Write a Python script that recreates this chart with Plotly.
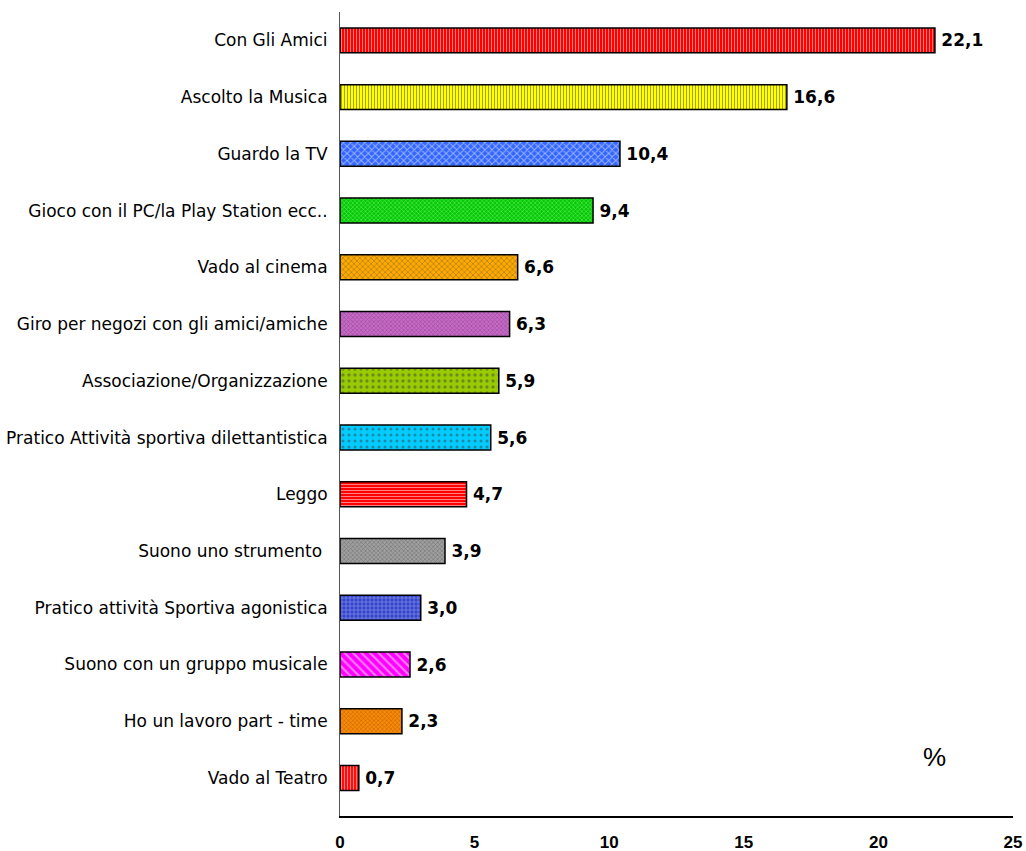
import plotly.graph_objects as go

categories = [
    "Con Gli Amici",
    "Ascolto la Musica",
    "Guardo la TV",
    "Gioco con il PC/la Play Station ecc..",
    "Vado al cinema",
    "Giro per negozi con gli amici/amiche",
    "Associazione/Organizzazione",
    "Pratico Attività sportiva dilettantistica",
    "Leggo",
    "Suono uno strumento ",
    "Pratico attività Sportiva agonistica",
    "Suono con un gruppo musicale",
    "Ho un lavoro part - time",
    "Vado al Teatro",
]
values = [22.1, 16.6, 10.4, 9.4, 6.6, 6.3, 5.9, 5.6, 4.7, 3.9, 3.0, 2.6, 2.3, 0.7]
x_ticks = [0, 5, 10, 15, 20, 25]

bg_colors = ["#FF0000", "#FFFF00", "#3366FF", "#00CC00", "#FFAA00", "#CC66CC", "#99CC00",
             "#00CCFF", "#FF0000", "#A0A0A0", "#3344CC", "#FF00FF", "#FF8800", "#FF0000"]
fg_colors = ["#AA0000", "#E8C000", "#0000CC", "#009900", "#FF9900", "#9933AA", "#336600",
             "#336699", "#AA0000", "#444444", "#3366FF", "#FF88CC", "#FF6600", "#880000"]
shapes = ["|", "|", "x", "x", "x", "x", ".", ".", "-", "x", "+", "\\", "x", "|"]
sizes = [3, 3, 5, 3, 4, 3, 6, 6, 3, 3, 4, 6, 3, 3]
solid = [0.35, 0.35, 0.35, 0.3, 0.3, 0.35, 0.25, 0.2, 0.35, 0.35, 0.25, 0.35, 0.3, 0.4]

fig = go.Figure(go.Bar(
    y=categories,
    x=values,
    orientation="h",
    width=0.44,
    marker=dict(
        color=bg_colors,
        line=dict(color="black", width=1.5),
        pattern=dict(shape=shapes, fgcolor=fg_colors,
                     size=sizes, solidity=solid, fillmode="overlay"),
    ),
    texttemplate="\u2009%{x:.1f}",
    textposition="outside",
    textfont=dict(family="DejaVu Sans", size=17, color="black", weight="bold"),
    cliponaxis=False,
    hoverinfo="skip",
))

fig.add_annotation(x=22.1, y=13, xref="x", yref="y", text="%", showarrow=False,
                   yshift=21, font=dict(family="Liberation Sans", size=26, color="black"))

fig.update_layout(
    width=1026, height=851,
    margin=dict(l=340, r=13, t=12, b=35),
    paper_bgcolor="white", plot_bgcolor="white",
    separators=",.",
    showlegend=False,
)
fig.update_xaxes(
    range=[0, 25], tickvals=x_ticks, showgrid=False, zeroline=False,
    showline=True, linecolor="black", linewidth=1.5, automargin=False,
    ticks="outside", ticklen=0, ticklabelstandoff=10,
    tickfont=dict(family="Liberation Sans", size=17, color="black", weight="bold"),
)
fig.update_yaxes(
    autorange="reversed", showgrid=False, zeroline=False, automargin=False,
    showline=True, linecolor="#555555", linewidth=1,
    ticks="outside", ticklen=0, ticklabelstandoff=8,
    tickfont=dict(family="DejaVu Sans", size=17, color="black"),
)

fig.write_html("out.html", config={"displayModeBar": False},
               post_script="document.body.style.margin='0';document.body.style.overflow='hidden';")
